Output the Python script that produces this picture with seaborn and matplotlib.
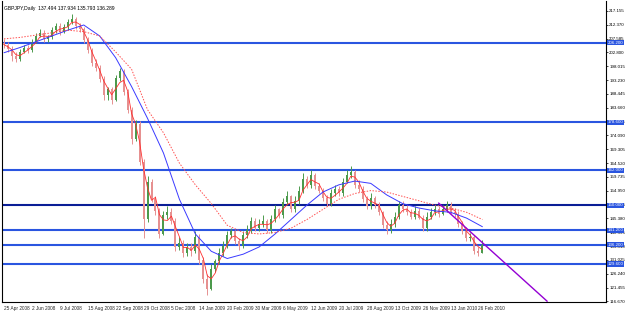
import numpy as np
import pandas as pd
import matplotlib
matplotlib.use("Agg")
import matplotlib.pyplot as plt
import seaborn as sns

# ---------------- data ----------------
title_text = "GBPJPY,Daily  137.494 137.934 135.793 136.289"
date_labels = ["25 Apr 2008", "2 Jun 2008", "9 Jul 2008", "15 Aug 2008", "22 Sep 2008",
               "29 Oct 2008", "5 Dec 2008", "14 Jan 2009", "20 Feb 2009", "30 Mar 2009",
               "6 May 2009", "12 Jun 2009", "20 Jul 2009", "28 Aug 2009", "13 Oct 2009",
               "26 Nov 2009", "13 Jan 2010", "26 Feb 2010"]

closes = [205.5, 204.0, 201.5, 200.5, 203.0, 204.5, 203.5, 206.5, 208.5, 209.5,
          207.5, 208.0, 210.5, 212.0, 210.0, 211.5, 213.5, 214.5, 212.0, 211.0,
          207.0, 203.5, 199.0, 197.5, 193.5, 188.0, 190.0, 186.5, 194.0, 196.5,
          189.0, 183.0, 173.0, 178.0, 165.0, 145.0, 158.0, 152.0, 148.0, 140.0,
          146.5, 147.5, 144.5, 135.5, 137.0, 133.5, 135.5, 134.0, 139.0, 131.0,
          124.5, 121.0, 128.0, 130.5, 133.5, 136.0, 139.5, 141.0, 137.5, 136.0,
          139.5, 141.5, 144.5, 142.0, 143.5, 144.5, 141.5, 145.0, 148.5, 146.5,
          151.0, 153.0, 148.5, 151.5, 155.0, 159.0, 157.0, 160.5, 156.5, 155.0,
          152.5, 150.5, 154.0, 155.5, 154.0, 158.0, 160.5, 161.5, 157.0, 155.5,
          152.0, 149.5, 152.5, 150.0, 147.5, 143.0, 141.5, 143.5, 146.0, 150.0,
          148.5, 147.5, 146.0, 148.0, 145.5, 142.0, 146.0, 147.5, 148.5, 147.0,
          148.5, 150.0, 147.5, 147.0, 143.5, 141.0, 138.5, 139.0, 134.0, 133.5,
          136.3]
opens = [206.0, 205.5, 204.0, 201.5, 200.5, 203.0, 204.5, 203.5, 206.5, 208.5,
         209.5, 207.5, 208.0, 210.5, 212.0, 210.0, 211.5, 213.5, 214.5, 212.0,
         211.0, 207.0, 203.5, 199.0, 197.5, 193.5, 188.0, 190.0, 186.5, 194.0,
         196.5, 189.0, 183.0, 173.0, 178.0, 165.0, 145.0, 158.0, 152.0, 148.0,
         140.0, 146.5, 147.5, 144.5, 135.5, 137.0, 133.5, 135.5, 134.0, 139.0,
         131.0, 124.5, 121.0, 128.0, 130.5, 133.5, 136.0, 139.5, 141.0, 137.5,
         136.0, 139.5, 141.5, 144.5, 142.0, 143.5, 144.5, 141.5, 145.0, 148.5,
         146.5, 151.0, 153.0, 148.5, 151.5, 155.0, 159.0, 157.0, 160.5, 156.5,
         155.0, 152.5, 150.5, 154.0, 155.5, 154.0, 158.0, 160.5, 161.5, 157.0,
         155.5, 152.0, 149.5, 152.5, 150.0, 147.5, 143.0, 141.5, 143.5, 146.0,
         150.0, 148.5, 147.5, 146.0, 148.0, 145.5, 142.0, 146.0, 147.5, 148.5,
         147.0, 148.5, 150.0, 147.5, 147.0, 143.5, 141.0, 138.5, 139.0, 134.0,
         133.5]
highs = [207.5, 206.5, 205.0, 203.0, 204.0, 205.5, 205.5, 207.5, 209.5, 211.0,
         210.5, 209.0, 211.5, 213.0, 213.0, 212.5, 214.5, 216.0, 215.0, 213.0,
         211.5, 208.0, 204.5, 200.5, 198.5, 194.5, 191.0, 191.0, 195.0, 197.5,
         197.0, 190.0, 184.0, 179.5, 179.0, 166.0, 160.0, 159.0, 153.0, 149.0,
         148.0, 149.5, 149.0, 145.5, 139.0, 138.0, 137.0, 137.0, 141.0, 140.0,
         132.0, 126.0, 129.5, 131.5, 135.0, 137.5, 141.0, 142.0, 141.5, 138.5,
         141.0, 143.0, 146.0, 145.5, 145.0, 146.5, 145.0, 146.5, 150.0, 149.0,
         152.5, 155.0, 153.5, 153.0, 156.5, 161.0, 160.0, 162.0, 161.0, 157.5,
         156.0, 153.5, 155.5, 157.0, 156.5, 159.5, 162.0, 163.5, 162.0, 158.5,
         156.5, 153.0, 154.0, 153.0, 151.0, 148.0, 144.5, 145.0, 147.5, 151.5,
         151.5, 150.0, 148.5, 149.5, 149.0, 146.5, 147.5, 149.0, 150.0, 149.5,
         150.0, 151.5, 151.0, 149.0, 148.0, 144.5, 142.5, 140.5, 139.5, 135.5,
         137.9]
lows = [204.5, 203.0, 200.0, 199.5, 200.0, 202.5, 202.5, 203.0, 206.0, 208.0,
        206.5, 206.5, 207.5, 209.5, 209.0, 209.5, 210.5, 212.5, 211.0, 210.0,
        206.0, 202.5, 198.0, 196.5, 192.5, 186.5, 186.5, 185.0, 186.0, 193.0,
        188.0, 182.0, 171.0, 172.0, 164.0, 138.5, 144.0, 151.0, 146.5, 138.5,
        139.5, 145.0, 143.5, 134.0, 134.5, 132.0, 132.5, 132.5, 133.5, 129.5,
        123.0, 118.8, 120.5, 127.0, 129.5, 132.5, 135.0, 138.5, 136.5, 134.5,
        135.0, 138.5, 140.5, 141.0, 141.0, 142.5, 140.5, 140.5, 144.0, 145.5,
        145.5, 150.0, 147.5, 147.5, 150.5, 154.0, 156.0, 156.0, 155.5, 154.0,
        151.5, 149.5, 149.5, 153.0, 153.0, 153.0, 157.5, 159.5, 156.0, 154.5,
        151.0, 148.5, 148.5, 149.0, 146.5, 142.0, 140.0, 140.5, 142.5, 145.0,
        147.5, 146.5, 145.0, 145.0, 145.0, 141.0, 141.0, 145.0, 146.5, 146.0,
        146.5, 147.5, 147.0, 146.0, 142.5, 140.0, 137.5, 137.5, 133.0, 132.5,
        133.3]

# slower moving averages, sampled every 4th candle
ma_blue = [202.7, 204.5, 206.5, 208.5, 210.5, 212.3, 208.5, 201.0, 191.0, 180.0,
           168.0, 152.0, 140.0, 134.0, 131.5, 133.0, 135.5, 140.0, 145.0, 150.0,
           154.5, 157.0, 158.3, 157.5, 153.5, 150.5, 149.0, 148.0, 147.5, 145.5,
           142.5]
ma_dotted = [207.5, 208.0, 208.8, 209.6, 210.5, 210.0, 208.5, 203.0, 197.0, 183.0,
             175.0, 164.5, 157.0, 150.5, 143.0, 140.5, 140.0, 140.5, 142.0, 145.0,
             148.5, 152.0, 154.0, 155.0, 154.5, 153.0, 151.5, 150.0, 149.0, 147.5,
             145.0]

level_values = [206.20, 178.60, 162.00, 150.00, 141.20, 136.20, 129.60]
level_labels = ["206.200", "178.600", "162.000", "150.000", "141.200", "136.200", "129.600"]
trend_values = [150.7, 116.7]

tick_start, tick_step, tick_count = 116.670, 4.785, 22

# ---------------- plotting ----------------
sns.set_style("white")
plt.rcParams['font.family'] = ['Liberation Sans', 'DejaVu Sans']

fig = plt.figure(figsize=(6.25, 3.13), dpi=100)
ax = fig.add_axes([0.0032, 0.0351, 0.9664, 0.9617])

n = len(closes)
step = 4
xs = np.arange(n) * step
df = pd.DataFrame({"x": xs, "open": opens, "high": highs, "low": lows, "close": closes})

up_col = "#4c9a4c"
dn_col = "#e69090"
for _, r in df.iterrows():
    col = up_col if r.close >= r.open else dn_col
    ax.vlines(r.x, r.low, r.high, color=col, lw=0.7, zorder=3)
    lo, hi = min(r.open, r.close), max(r.open, r.close)
    ax.bar(r.x, max(hi - lo, 0.4), bottom=lo, width=2.0, color=col, lw=0, zorder=3)

# fast MA from the closes
df["fast"] = df["close"].rolling(3, min_periods=1).mean()
sns.lineplot(data=df, x="x", y="fast", color="#ff3030", lw=0.6, ax=ax, zorder=4)

ma_x = np.arange(len(ma_blue)) * step * 4
mdf = pd.DataFrame({"x": ma_x, "blue": ma_blue, "dot": ma_dotted})
sns.lineplot(data=mdf, x="x", y="blue", color="#3a3aff", lw=0.7, ax=ax, zorder=4)
sns.lineplot(data=mdf, x="x", y="dot", color="#ff5050", lw=0.7, ax=ax, zorder=4,
             linestyle=(0, (1.5, 1.5)))

# horizontal levels
for v in level_values:
    c = "#0a1e96" if abs(v - 150.0) < 1e-6 else "#2a55e0"
    ax.axhline(v, color=c, lw=1.5, zorder=2)

# trend line
ax.plot([436, 545], trend_values, color="#9400d3", lw=1.0, zorder=5)

ax.set_xlim(-2, 604)
ax.set_ylim(116.45, 220.6)

ticks = [tick_start + tick_step * k for k in range(tick_count)]
ax.set_yticks(ticks)
ax.set_yticklabels([f"{t:.3f}" for t in ticks])
ax.yaxis.tick_right()
ax.tick_params(axis="y", labelsize=3.2, length=1.5, width=0.5, pad=0.8, colors="black")

xt = np.arange(len(date_labels)) * 28
ax.set_xticks(xt)
ax.set_xticklabels(date_labels, ha="left")
ax.tick_params(axis="x", labelsize=3.4, length=2, width=0.5, pad=1.0)

for sp in ["left", "right", "bottom"]:
    ax.spines[sp].set_color("black")
    ax.spines[sp].set_linewidth(0.8)
ax.spines["top"].set_visible(False)
ax.set_xlabel("")
ax.set_ylabel("")
ax.grid(False)

# highlighted price labels on the right axis
for v, lab in zip(level_values, level_labels):
    ax.text(1.0025, v, lab, transform=ax.get_yaxis_transform(), fontsize=3.2,
            color="white", va="center", ha="left",
            bbox=dict(boxstyle="square,pad=0.12", fc="#2a55e0", ec="none"), zorder=10,
            clip_on=False)

ax.text(0.004, 0.985, title_text, transform=ax.transAxes, fontsize=3.6,
        va="top", ha="left", color="black")

fig.savefig("out.png", dpi=100)
